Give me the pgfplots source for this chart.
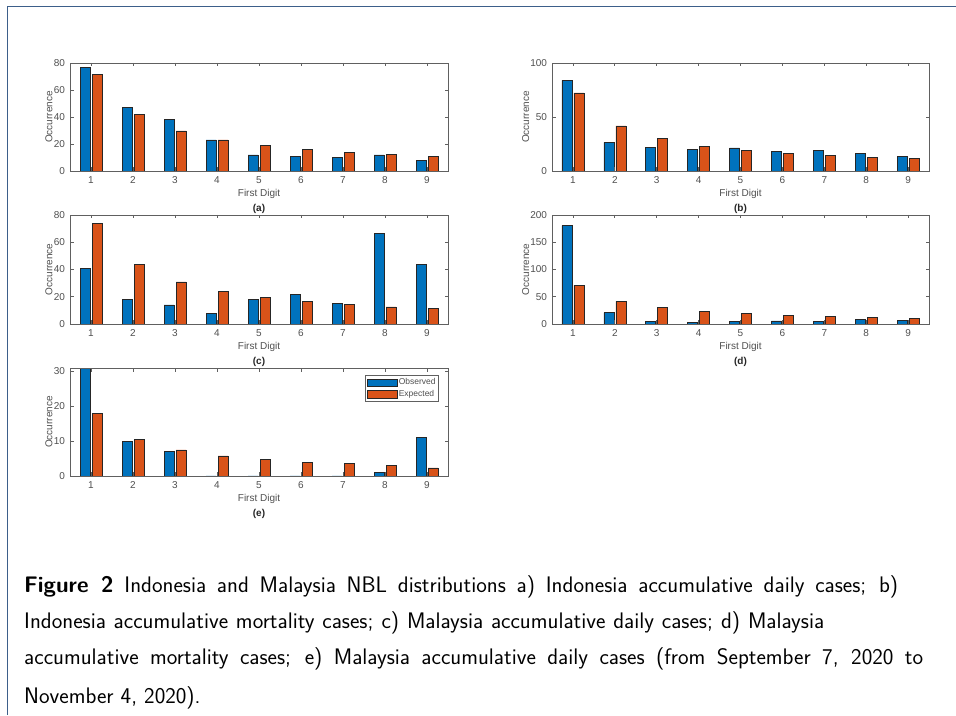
\documentclass[border=0pt]{standalone}
\usepackage{fontspec}
\setmainfont{Liberation Sans}
\usepackage{pgfplots}
\pgfplotsset{compat=1.18}
\definecolor{mblue}{HTML}{0072BD}
\definecolor{morange}{HTML}{D95319}
\definecolor{axgray}{HTML}{606060}
\definecolor{txtgray}{HTML}{505050}
\definecolor{framec}{HTML}{3D5F8A}
\pgfplotsset{
  benf/.style={
    scale only axis, width=378pt, height=108pt,
    ybar=2pt, bar width=10pt,
    xmin=0.5, xmax=9.5, xtick={1,...,9}, ymin=0,
    axis on top,
    tick align=inside, tick pos=both, major tick length=3.5pt,
    axis line style={axgray, line width=0.8pt},
    tick style={axgray, line width=0.8pt},
    tick label style={font=\fontsize{10}{12}\selectfont, text=txtgray},
    /pgf/number format/assume math mode=true,
    xticklabel style={yshift=-2pt},
    yticklabel style={xshift=-1.5pt},
    xlabel={First Digit}, ylabel={Occurrence},
    label style={font=\fontsize{10}{12}\selectfont, text=txtgray},
    xlabel style={at={(axis description cs:0.5,0)}, anchor=center, yshift=-23pt},
    ylabel style={at={(axis description cs:-0.0556,0.5)}, anchor=center},
  },
  obs/.style={fill=mblue, draw=black!85, line width=0.5pt},
  exq/.style={fill=morange, draw=black!85, line width=0.5pt},
}
\begin{document}
\begin{tikzpicture}
\useasboundingbox (0pt,0pt) rectangle (956pt,715pt);
\fill[white] (0pt,0pt) rectangle (956pt,715pt);
\draw[framec, line width=1.5pt] (7.3pt,0pt) -- (7.3pt,708.3pt) -- (956pt,708.3pt);

% (a)
\begin{axis}[benf, at={(70pt,544pt)}, anchor=south west, ymax=80, ytick={0,20,40,60,80}]
\addplot[obs] coordinates {(1,76.5) (2,47) (3,38.5) (4,23) (5,12) (6,11) (7,10) (8,12) (9,8)};
\addplot[exq] coordinates {(1,71.3) (2,41.7) (3,29.8) (4,23) (5,18.8) (6,15.9) (7,13.8) (8,12.1) (9,10.8)};
\end{axis}
% (b)
\begin{axis}[benf, width=377pt, at={(552pt,544pt)}, anchor=south west, ymax=100, ytick={0,50,100},
  ylabel style={at={(axis description cs:-0.0698,0.5)}, anchor=center}]
\addplot[obs] coordinates {(1,84) (2,26.5) (3,22) (4,20) (5,21.5) (6,18.5) (7,19.3) (8,16.4) (9,13.3)};
\addplot[exq] coordinates {(1,72.3) (2,41.7) (3,30) (4,23) (5,19.3) (6,16.3) (7,14.2) (8,12.4) (9,11.5)};
\end{axis}
% (c)
\begin{axis}[benf, height=109pt, at={(70pt,391pt)}, anchor=south west, ymax=80, ytick={0,20,40,60,80}]
\addplot[obs] coordinates {(1,41) (2,18) (3,14) (4,8) (5,18) (6,22) (7,15) (8,66.3) (9,44)};
\addplot[exq] coordinates {(1,74.1) (2,43.5) (3,31) (4,24) (5,19.4) (6,16.4) (7,14.2) (8,12.5) (9,11.3)};
\end{axis}
% (d)
\begin{axis}[benf, width=377pt, height=109pt, at={(552pt,391pt)}, anchor=south west, ymax=200, ytick={0,50,100,150,200},
  ylabel style={at={(axis description cs:-0.0698,0.5)}, anchor=center}]
\addplot[obs] coordinates {(1,180.5) (2,21) (3,5) (4,3) (5,4.3) (6,5.5) (7,4.5) (8,8.6) (9,7.3)};
\addplot[exq] coordinates {(1,71.5) (2,41.5) (3,30) (4,23) (5,18.8) (6,16) (7,13.8) (8,12.3) (9,11)};
\end{axis}
% (e)
\begin{axis}[benf, at={(70pt,239pt)}, anchor=south west, ymax=31, ytick={0,10,20,30},
  legend style={at={(axis description cs:0.976,0.931)}, anchor=north east,
    draw=axgray, line width=0.6pt, font=\fontsize{8.5}{9}\selectfont, text=txtgray,
    inner xsep=1.5pt, inner ysep=1.5pt, row sep=1pt, nodes={inner sep=1.5pt}},
  legend cell align=left,
  legend image code/.code={\draw[#1] (0pt,-3.8pt) rectangle (30pt,3.8pt);}]
\addplot[obs] coordinates {(1,31.5) (2,10) (3,7) (4,0) (5,0) (6,0) (7,0) (8,1) (9,11)};
\addplot[exq] coordinates {(1,18) (2,10.5) (3,7.5) (4,5.8) (5,4.7) (6,4.0) (7,3.6) (8,3.1) (9,2.3)};
\legend{Observed, Expected}
\end{axis}

\begin{scope}[every node/.style={font=\bfseries\fontsize{10}{12}\selectfont, text=black!85}]
\node at (259pt,506pt) {(a)};
\node at (740.5pt,506pt) {(b)};
\node at (259pt,353pt) {(c)};
\node at (740.5pt,353pt) {(d)};
\node at (259pt,201pt) {(e)};
\end{scope}

\begin{scope}[every node/.style={anchor=base west, inner sep=0pt, font=\sffamily\fontsize{22.5}{30}\selectfont}]
\node at (24pt,122pt) {\makebox[874pt][s]{\textbf{Figure 2} Indonesia and Malaysia NBL distributions a) Indonesia accumulative daily cases; b)}};
\node at (24pt,86pt) {\makebox[800pt][s]{Indonesia accumulative mortality cases; c) Malaysia accumulative daily cases; d) Malaysia}};
\node at (24pt,50pt) {\makebox[899pt][s]{accumulative mortality cases; e) Malaysia accumulative daily cases (from September 7, 2020 to}};
\node at (24pt,12pt) {November 4, 2020).};
\end{scope}
\end{tikzpicture}
\end{document}
